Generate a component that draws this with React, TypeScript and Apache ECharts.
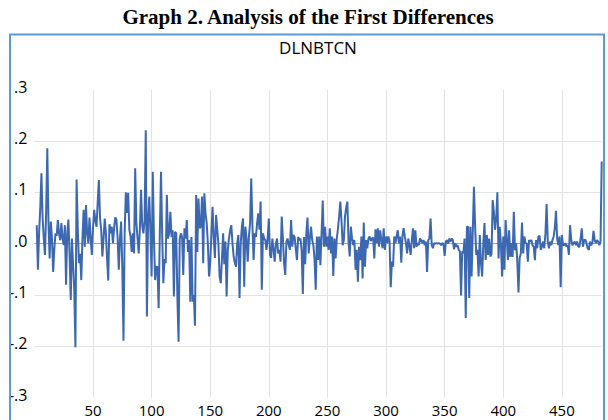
import React, { useEffect, useRef } from "react";
import * as echarts from "echarts";

const chartTitle = "Graph 2. Analysis of the First Differences";
const seriesName = "DLNBTCN";
const firstObs = 2;
const xTicks = [0, 50, 100, 150, 200, 250, 300, 350, 400, 450];
const yTickLabels = [".3", ".2", ".1", ".0", "-.1", "-.2", "-.3"];

// obs 2-80
const dlnA = [
  0.036, -0.051, 0.02, 0.07, 0.137, 0.05, 0.01, -0.022, 0.06, 0.186,
  0.04, -0.029, 0.043, 0.01, -0.055, -0.01, 0.02, 0.015, 0.046, 0.02,
  0.007, 0.04, 0.01, -0.003, 0.036, -0.08, 0.02, 0.047, -0.02, -0.11,
  0.01, -0.04, -0.09, -0.202, 0.125, 0.03, -0.038, -0.02, -0.071, 0.01,
  0.066, -0.006, 0.075, 0.02, 0.001, 0.051, 0.01, -0.022, 0.03, 0.066,
  0.045, 0.033, 0.08, 0.124, 0.05, 0.027, -0.025, 0.01, 0.049, 0.02,
  -0.03, -0.072, 0.038, 0.02, 0.033, 0.001, 0.03, 0.051, 0.047, 0.01,
  -0.051, 0.01, 0.043, -0.05, -0.189, 0.02, 0.1, 0.06, 0.099,
];
// obs 81-160
const dlnB = [
  0.027, 0.015, -0.016, 0.02, -0.019, 0.147, 0.04, 0.01, -0.019, 0.03,
  0.105, 0.035, 0.02, 0.045, 0.221, -0.142, 0.05, 0.092, 0.02, -0.064,
  0.14, 0.01, -0.071, -0.045, -0.045, -0.126, 0.02, 0.14, 0.02, -0.077,
  -0.03, -0.038, 0.095, 0.01, 0.02, 0.062, 0.013, 0.026, -0.103, 0.023,
  0.02, -0.106, -0.191, 0.01, 0.02, 0.013, -0.061, 0.03, 0.01, 0.046,
  -0.016, 0.007, -0.113, 0.013, -0.113, -0.1, -0.16, 0.095, -0.016, 0.088,
  0.03, 0.033, 0.092, -0.038, 0.098, 0.059, 0.04, 0.0, -0.064, -0.038,
  0.02, 0.072, 0.01, -0.028, 0.056, 0.027, 0.0, -0.064, -0.077, -0.03,
];
// obs 161-240
const dlnC = [
  0.02, -0.04, 0.004, -0.103, -0.012, 0.01, 0.026, 0.036, 0.0, -0.025,
  -0.038, -0.045, 0.0, 0.017, -0.106, 0.0, 0.033, 0.049, -0.084, 0.033,
  0.01, -0.035, 0.013, 0.04, 0.127, 0.036, -0.032, 0.02, 0.013, 0.04,
  0.059, 0.027, 0.082, -0.09, 0.02, 0.01, 0.007, -0.012, 0.01, 0.049,
  -0.022, -0.028, 0.01, -0.01, -0.035, 0.0, 0.01, -0.019, -0.012, -0.035,
  0.053, 0.01, -0.038, -0.061, 0.004, 0.01, -0.003, -0.012, 0.046, -0.006,
  0.017, 0.013, -0.01, -0.032, 0.013, 0.007, 0.01, -0.012, -0.098, 0.013,
  -0.04, 0.02, 0.051, -0.019, 0.01, 0.033, 0.007, -0.003, -0.03, -0.09,
];
// obs 241-320
const dlnD = [
  0.014, -0.032, 0.014, -0.042, 0.02, 0.084, -0.006, 0.033, -0.006, 0.014,
  -0.012, 0.03, -0.019, 0.014, -0.063, 0.01, -0.029, 0.01, 0.03, 0.053,
  0.082, 0.045, -0.003, 0.007, 0.053, 0.07, 0.082, 0.004, -0.025, 0.033,
  0.01, -0.003, 0.007, -0.051, -0.012, -0.074, -0.006, -0.032, 0.014, -0.068,
  0.041, -0.045, 0.007, -0.009, 0.01, 0.014, 0.005, 0.01, 0.012, -0.029,
  0.028, 0.001, 0.03, -0.006, 0.026, 0.007, -0.009, 0.03, -0.012, 0.014,
  0.001, 0.014, 0.005, -0.085, -0.035, -0.045, 0.014, 0.001, 0.014, 0.026,
  0.001, 0.014, -0.037, 0.014, 0.03, 0.014, 0.001, -0.019, 0.01, -0.005,
];
// obs 321-400
const dlnE = [
  -0.022, 0.007, 0.03, -0.009, 0.026, -0.006, 0.001, -0.003, 0.01, 0.007,
  0.001, 0.007, -0.003, 0.004, -0.055, 0.007, 0.01, 0.049, -0.003, -0.009,
  0.001, 0.0, 0.001, 0.0, 0.001, 0.0, -0.003, 0.001, 0.0, -0.024,
  0.004, 0.007, 0.0, 0.01, 0.004, 0.01, 0.007, -0.011, 0.001, -0.006,
  -0.003, -0.012, -0.015, -0.101, -0.015, -0.019, 0.01, -0.145, 0.033, 0.033,
  -0.106, 0.033, -0.064, 0.023, 0.111, 0.033, -0.022, -0.012, -0.064, 0.017,
  -0.038, -0.064, 0.001, 0.04, -0.032, 0.017, -0.022, 0.01, -0.025, -0.02,
  0.085, 0.062, 0.027, 0.05, 0.1, -0.029, 0.033, 0.0, -0.064, 0.014,
];
// obs 401-484
const dlnF = [
  -0.051, 0.046, 0.01, -0.032, 0.026, -0.026, 0.001, -0.026, 0.062, -0.013,
  0.001, -0.035, -0.095, -0.028, -0.019, 0.041, -0.019, 0.014, 0.001, 0.0,
  -0.035, 0.007, 0.004, 0.007, -0.003, -0.006, -0.032, 0.007, -0.009, 0.014,
  0.015, -0.012, -0.006, 0.004, -0.009, 0.02, 0.077, 0.004, -0.009, 0.004,
  -0.003, 0.007, 0.014, 0.03, 0.064, 0.01, -0.003, 0.014, -0.085, 0.017,
  -0.003, -0.003, 0.001, -0.006, -0.003, -0.022, 0.036, 0.007, -0.003, 0.001,
  0.004, -0.003, 0.004, -0.006, -0.006, 0.01, 0.03, -0.006, 0.007, 0.008,
  0.001, -0.009, -0.012, 0.004, -0.003, 0.001, 0.025, 0.007, 0.001, 0.007,
  0.004, -0.003, 0.004, 0.16,
];

const dlnbtcn = [...dlnA, ...dlnB, ...dlnC, ...dlnD, ...dlnE, ...dlnF];

export default function App() {
  const ref = useRef<HTMLDivElement>(null);
  useEffect(() => {
    if (!ref.current) return;
    const chart = echarts.init(ref.current, undefined, { renderer: "svg" });
    const lastObs = firstObs + dlnbtcn.length - 1;
    const sans = "'Open Sans', 'Liberation Sans', sans-serif";
    const grid = "#E3E3E3";
    chart.setOption({
      animation: false,
      backgroundColor: "#ffffff",
      grid: { left: 34.4, right: 6.3, top: 89.7, bottom: 22.4, containLabel: false },
      xAxis: {
        type: "value",
        min: 0,
        max: lastObs,
        interval: 50,
        axisLine: { show: false },
        axisTick: { show: false },
        axisLabel: {
          color: "#000",
          fontFamily: sans,
          fontSize: 15,
          margin: 5,
          showMinLabel: false,
          showMaxLabel: false,
          formatter: (v: number) => (xTicks.indexOf(v) > 0 ? String(v) : ""),
        },
        splitLine: {
          show: true,
          lineStyle: {
            width: 1,
            color: xTicks.map((t, i) => (i === 0 ? "rgba(0,0,0,0)" : grid)),
          },
        },
      },
      yAxis: {
        type: "value",
        min: -0.3,
        max: 0.3,
        interval: 0.1,
        axisLine: { show: false },
        axisTick: { show: false },
        axisLabel: {
          color: "#000",
          margin: 7,
          formatter: (v: number) => {
            const idx = Math.round((0.3 - v) / 0.1);
            return "{t|" + (yTickLabels[idx] ?? "") + "}";
          },
          rich: {
            t: {
              fontFamily: sans,
              fontSize: 16,
              color: "#000",
              padding: [0, 0, 6, 0],
            },
          },
        },
        splitLine: {
          show: true,
          lineStyle: {
            width: 1,
            color: ["rgba(0,0,0,0)", grid, grid, "#A6A6A6", grid, grid, "rgba(0,0,0,0)"],
          },
        },
      },
      graphic: [
        {
          type: "rect",
          shape: { x: 10, y: 34.5, width: 594, height: 420 },
          style: { fill: "none", stroke: "#5B9BD5", lineWidth: 2 },
          z: 100,
        },
        {
          type: "text",
          x: 308,
          y: 17,
          style: {
            text: chartTitle,
            fill: "#000",
            font: "bold 21px 'Liberation Serif', 'Times New Roman', serif",
            align: "center",
            verticalAlign: "middle",
          },
        },
        {
          type: "text",
          x: 318,
          y: 47,
          style: {
            text: seriesName,
            fill: "#000",
            font: "17px " + sans,
            align: "center",
            verticalAlign: "middle",
          },
        },
      ],
      series: [
        {
          type: "line",
          data: dlnbtcn.map((v, i) => [firstObs + i, v]),
          showSymbol: false,
          symbol: "none",
          lineStyle: { color: "#3C68B2", width: 2 },
          clip: true,
        },
      ],
    });
    return () => chart.dispose();
  }, []);
  return (
    <div
      ref={ref}
      style={{ position: "fixed", left: 0, top: 0, width: 608, height: 420, background: "#fff" }}
    />
  );
}
